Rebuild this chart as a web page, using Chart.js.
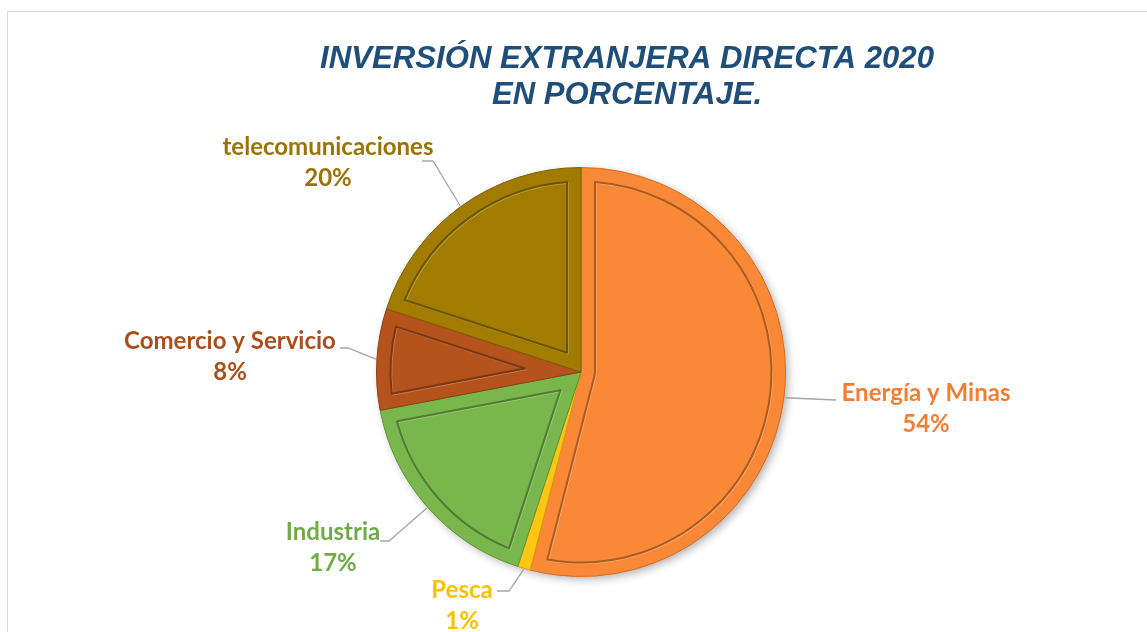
<!DOCTYPE html>
<html>
<head>
<meta charset="utf-8">
<script src="https://cdn.jsdelivr.net/npm/chart.js@4"></script>
<style>
  html, body { margin: 0; padding: 0; background: #fff; }
  #wrap { position: relative; width: 1147px; height: 632px; overflow: hidden; }
  #frame { position: absolute; left: 7px; top: 11px; width: 1200px; height: 700px;
           border-left: 1px solid #d9d9d9; border-top: 1px solid #d9d9d9; }
  canvas { position: absolute; left: 0; top: 0; }
</style>
</head>
<body>
<div id="wrap">
  <div id="frame"></div>
  <canvas id="chart" width="1147" height="632"></canvas>
</div>
<script>
// datos
const categorias = ['Energía y Minas', 'Pesca', 'Industria', 'Comercio y Servicio', 'telecomunicaciones'];
const porcentajes = [54, 1, 17, 8, 20];
const tituloLineas = ['INVERSIÓN EXTRANJERA DIRECTA 2020', 'EN PORCENTAJE.'];

// estilos
const rellenos = ['#f98937', '#fec514', '#79b64b', '#b4531c', '#a27c00'];
const bordes   = ['#d86c22', '#d9a300', '#5e9436', '#8e3e12', '#7d6000'];
const textos   = ['#f07f33', '#fcc000', '#6fac47', '#a94f1c', '#9a7300'];

// posicion de etiquetas: centro del texto y fin de la linea guia
const etiquetas = [
  { x: 926, y: 393, codo: [836, 400], fin: [836, 400] },
  { x: 462, y: 590, codo: [509, 591], fin: [497, 591] },
  { x: 333, y: 532, codo: [389, 541], fin: [380, 541] },
  { x: 230, y: 341, codo: [348, 348], fin: [340, 348] },
  { x: 328, y: 147, codo: [433, 161], fin: [422, 161] }
];

function darker(hex, f) {
  const n = parseInt(hex.slice(1), 16);
  const r = Math.round(((n >> 16) & 255) * f);
  const g = Math.round(((n >> 8) & 255) * f);
  const b = Math.round((n & 255) * f);
  return `rgb(${r},${g},${b})`;
}

// sombra detras del pastel
const sombraPlugin = {
  id: 'sombra',
  beforeDatasetsDraw(chart) {
    const arc = chart.getDatasetMeta(0).data[0];
    if (!arc) return;
    const ctx = chart.ctx;
    ctx.save();
    ctx.shadowColor = 'rgba(0,0,0,0.35)';
    ctx.shadowBlur = 10;
    ctx.shadowOffsetX = 3;
    ctx.shadowOffsetY = 3;
    ctx.fillStyle = '#ddd';
    ctx.beginPath();
    ctx.arc(arc.x, arc.y, arc.outerRadius - 1, 0, Math.PI * 2);
    ctx.fill();
    ctx.restore();
  }
};

// bisel interior de cada porcion
const biselPlugin = {
  id: 'bisel',
  afterDatasetsDraw(chart) {
    const ctx = chart.ctx;
    const d = 14;
    chart.getDatasetMeta(0).data.forEach((arc, i) => {
      const { x, y, startAngle, endAngle, outerRadius } = arc.getProps(['x', 'y', 'startAngle', 'endAngle', 'outerRadius'], true);
      const span = endAngle - startAngle;
      const R = outerRadius - d;
      const delta = Math.asin(d / R);
      if (span <= 2 * delta + 0.02) return;
      let apex = null;
      if (span < Math.PI) {
        const dist = d / Math.sin(span / 2);
        if (dist > R * 0.9) return;
        const mid = (startAngle + endAngle) / 2;
        apex = [x + dist * Math.cos(mid), y + dist * Math.sin(mid)];
      }
      const path = () => {
        ctx.beginPath();
        ctx.arc(x, y, R, startAngle + delta, endAngle - delta);
        if (apex) {
          ctx.lineTo(apex[0], apex[1]);
        } else {
          ctx.arc(x, y, d, endAngle - Math.PI / 2, startAngle + Math.PI / 2, true);
        }
        ctx.closePath();
      };
      ctx.save();
      ctx.lineJoin = 'round';
      ctx.translate(1, 1);
      path();
      ctx.strokeStyle = 'rgba(255,255,255,0.25)';
      ctx.lineWidth = 1.5;
      ctx.stroke();
      ctx.translate(-1, -1);
      path();
      ctx.strokeStyle = darker(rellenos[i], 0.68);
      ctx.lineWidth = 2;
      ctx.stroke();
      ctx.restore();
    });
  }
};

// titulo y etiquetas con lineas guia
const textoPlugin = {
  id: 'textos',
  afterDraw(chart) {
    const ctx = chart.ctx;
    ctx.save();
    ctx.fillStyle = '#1f4e79';
    ctx.font = 'italic bold 32px "Liberation Sans", Arial, sans-serif';
    ctx.textAlign = 'center';
    ctx.textBaseline = 'middle';
    ctx.fillText(tituloLineas[0], 627, 59, 614);
    ctx.fillText(tituloLineas[1], 627, 95, 270);

    const meta = chart.getDatasetMeta(0);
    meta.data.forEach((arc, i) => {
      const { x, y, startAngle, endAngle, outerRadius } = arc.getProps(['x', 'y', 'startAngle', 'endAngle', 'outerRadius'], true);
      const mid = (startAngle + endAngle) / 2;
      const ex = x + (outerRadius + 1) * Math.cos(mid);
      const ey = y + (outerRadius + 1) * Math.sin(mid);
      const lab = etiquetas[i];
      ctx.beginPath();
      ctx.moveTo(ex, ey);
      ctx.lineTo(lab.codo[0], lab.codo[1]);
      ctx.lineTo(lab.fin[0], lab.fin[1]);
      ctx.strokeStyle = '#a6a6a6';
      ctx.lineWidth = 1.3;
      ctx.stroke();

      ctx.fillStyle = textos[i];
      ctx.font = 'bold 24px Lato, "Open Sans", sans-serif';
      ctx.fillText(categorias[i], lab.x, lab.y);
      ctx.fillText(porcentajes[i] + '%', lab.x, lab.y + 31);
    });
    ctx.restore();
  }
};

new Chart(document.getElementById('chart'), {
  type: 'pie',
  data: {
    labels: categorias,
    datasets: [{
      data: porcentajes,
      backgroundColor: rellenos,
      borderColor: bordes,
      borderWidth: 1
    }]
  },
  options: {
    responsive: false,
    animation: false,
    layout: { padding: { left: 376, right: 361, top: 167, bottom: 55 } },
    plugins: {
      legend: { display: false },
      tooltip: { enabled: false },
      title: { display: false }
    }
  },
  plugins: [sombraPlugin, biselPlugin, textoPlugin]
});
</script>
</body>
</html>
